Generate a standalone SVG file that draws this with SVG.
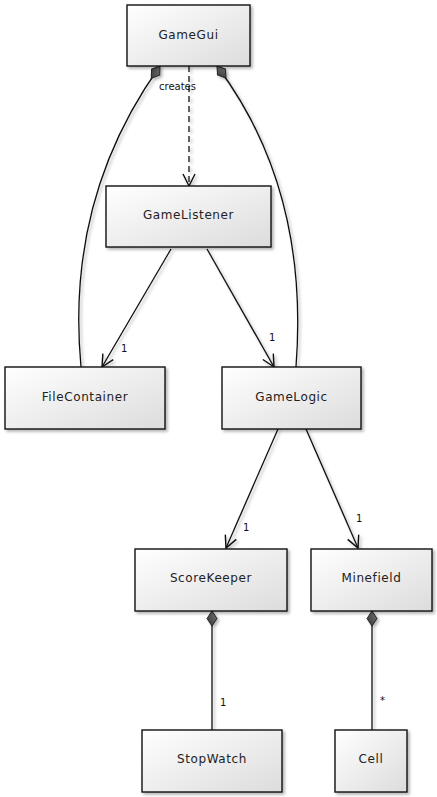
<svg xmlns="http://www.w3.org/2000/svg" width="437" height="797" viewBox="0 0 437 797">
<defs>
<linearGradient id="g" x1="0" y1="0" x2="1" y2="1">
<stop offset="0" stop-color="#ffffff"/>
<stop offset="1" stop-color="#dcdcdc"/>
</linearGradient>
<linearGradient id="dg" x1="0" y1="0" x2="1" y2="1">
<stop offset="0" stop-color="#777777"/>
<stop offset="1" stop-color="#333333"/>
</linearGradient>
<filter id="sh" filterUnits="userSpaceOnUse" x="0" y="0" width="437" height="797">
<feDropShadow dx="2" dy="2" stdDeviation="1.5" flood-color="#000" flood-opacity="0.3"/>
</filter>
<marker id="dia" markerUnits="userSpaceOnUse" markerWidth="20" markerHeight="14" viewBox="-1 -7 18 14" refX="0" refY="0" orient="auto">
<path d="M0,0 L7.5,-5 L15,0 L7.5,5 Z" fill="url(#dg)" stroke="#222" stroke-width="1"/>
</marker>
<marker id="arr" markerUnits="userSpaceOnUse" markerWidth="16" markerHeight="14" viewBox="-14 -7 16 14" refX="0" refY="0" orient="auto">
<path d="M-12,-6 L0,0 L-12,6" fill="none" stroke="#111" stroke-width="1.4"/>
</marker>
</defs>
<style>
.box{fill:url(#g);stroke:#111;stroke-width:1.4;filter:url(#sh)}
.lbl{font-family:"DejaVu Sans",sans-serif;font-size:12px;letter-spacing:0.6px;fill:#222;text-anchor:middle}
.m{font-family:"DejaVu Sans",sans-serif;font-size:10px;fill:#111}
.c{fill:none;stroke:#111;stroke-width:1.3;filter:url(#sh)}
</style>
<g id="connectors">
<path class="c" d="M160,66 C100,150 70,250 81,367" marker-start="url(#dia)"/>
<path class="c" d="M217,66 C280,150 305,250 296,367" marker-start="url(#dia)"/>
<path class="c" d="M189,66 L189,186" stroke-dasharray="6,4" marker-end="url(#arr)"/>
<text class="m" x="159" y="90">creates</text>
<path class="c" d="M171,249 L102,367" marker-end="url(#arr)"/>
<text class="m" x="121" y="352">1</text>
<path class="c" d="M207,249 L274,367" marker-end="url(#arr)"/>
<text class="m" x="269" y="341">1</text>
<path class="c" d="M278,429 L226,548" marker-end="url(#arr)"/>
<text class="m" x="243" y="531">1</text>
<path class="c" d="M306,429 L358,548" marker-end="url(#arr)"/>
<text class="m" x="356" y="522">1</text>
<path class="c" d="M212,611 L212,730" marker-start="url(#dia)"/>
<text class="m" x="220" y="706">1</text>
<path class="c" d="M372,611 L372,730" marker-start="url(#dia)"/>
<text class="m" x="380" y="704">*</text>
</g>
<g id="GameGui"><rect class="box" x="127" y="5" width="123" height="61"/><text class="lbl" x="188.5" y="39">GameGui</text></g>
<g id="GameListener"><rect class="box" x="106" y="186" width="165" height="61"/><text class="lbl" x="188.5" y="219">GameListener</text></g>
<g id="FileContainer"><rect class="box" x="5" y="367" width="160" height="62"/><text class="lbl" x="85" y="401">FileContainer</text></g>
<g id="GameLogic"><rect class="box" x="222" y="367" width="139" height="62"/><text class="lbl" x="291.5" y="401">GameLogic</text></g>
<g id="ScoreKeeper"><rect class="box" x="135" y="549" width="152" height="62"/><text class="lbl" x="211" y="582">ScoreKeeper</text></g>
<g id="Minefield"><rect class="box" x="311" y="549" width="121" height="62"/><text class="lbl" x="371.5" y="582">Minefield</text></g>
<g id="StopWatch"><rect class="box" x="142" y="730" width="140" height="62"/><text class="lbl" x="212" y="763">StopWatch</text></g>
<g id="Cell"><rect class="box" x="335" y="730" width="72" height="62"/><text class="lbl" x="371" y="763">Cell</text></g>
</svg>
